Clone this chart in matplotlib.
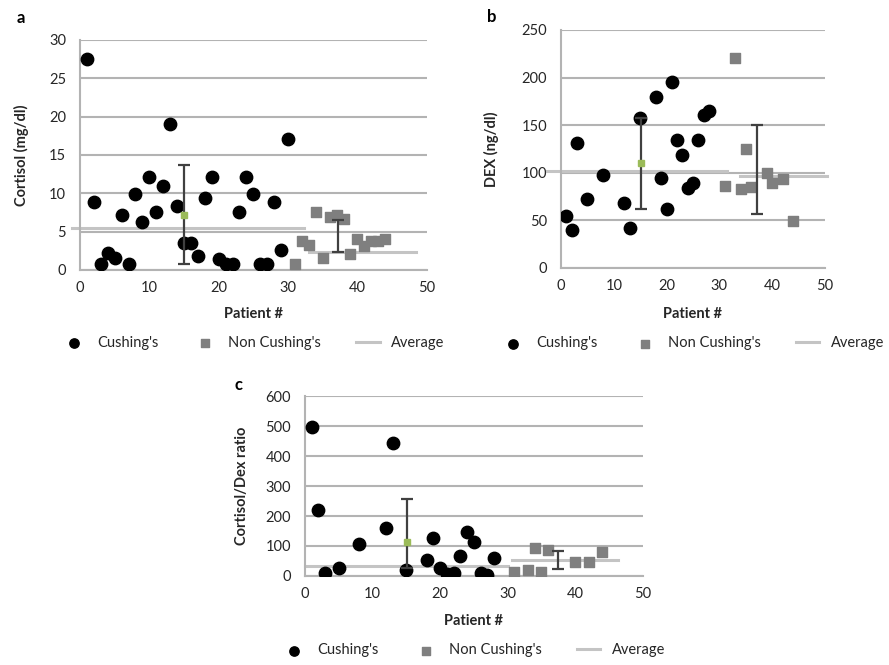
import numpy as np
import matplotlib.pyplot as plt

plt.rcParams['font.family'] = ['Lato', 'DejaVu Sans']

# panel a - cortisol
cort_cush_x = list(range(1, 31))
cort_cush = [27.5, 8.8, 0.8, 2.2, 1.5, 7.2, 0.8, 9.9, 6.2, 12.1, 7.5, 11, 19, 8.3, 3.5,
             3.5, 1.8, 9.4, 12.1, 1.4, 0.8, 0.8, 7.5, 12.1, 9.9, 0.8, 0.8, 8.8, 2.6, 17.1]
cort_non_x = list(range(31, 45))
cort_non = [0.8, 3.8, 3.2, 7.5, 1.5, 6.9, 7.2, 6.6, 2.1, 4.0, 3.1, 3.8, 3.8, 4.0]
cort_avg = {"cush": (5.5, -1.2, 32.3), "non": (2.3, 33.0, 48.4)}
cort_err = {"cush": (15, 7.2, 0.8, 13.7), "non": (37.2, 4.4, 2.3, 6.5)}

# panel b - DEX
dex_cush_x = [1, 2, 3, 5, 8, 12, 13, 15, 18, 19, 20, 21, 22, 23, 24, 25, 26, 27, 28]
dex_cush = [55, 40, 131.5, 72, 98, 68, 42, 157, 180, 95, 62, 195, 134, 119, 84.5, 89, 134, 161, 165]
dex_non_x = [31, 33, 34, 35, 36, 39, 40, 42, 44]
dex_non = [86.6, 221, 83, 125, 85, 100, 89, 93, 49]
dex_avg = {"cush": (102, -2.7, 31.4), "non": (96.5, 33.9, 50.3)}
dex_err = {"cush": (15.1, 110.5, 62.4, 157), "non": (37.1, 103, 56.5, 150)}

# panel c - ratio
ratio_cush_x = [1, 2, 3, 5, 8, 12, 13, 15, 18, 19, 20, 21, 22, 23, 24, 25, 26, 27, 28]
ratio_cush = [499, 220, 11, 27, 106, 160, 444, 21, 52, 125, 27, 6, 11, 65, 146, 112, 11, 4, 59]
ratio_non_x = [31, 33, 34, 35, 36, 40, 42, 44]
ratio_non = [14.5, 19, 92, 14.5, 86, 48, 48, 80]
ratio_avg = {"cush": (32.5, 0, 30.0), "non": (52.6, 30.6, 46.4)}
ratio_err = {"cush": (15.1, 112, 28, 257), "non": (37.5, 52, 22.3, 81.6)}

GRID = "#b3b3b3"
AVG = "#c4c4c4"
ERR = "#404040"
SQ = "#7f7f7f"
TXT = "#262626"

fig = plt.figure(figsize=(8.89, 6.65), dpi=100)


def panel(rect, cx, cy, nx, ny, avg, err, ymax, ystep, ylabel, ylab_x, leg_y, xlab_y, msq):
    ax = fig.add_axes(rect)
    ax.set_xlim(0, 50)
    ax.set_ylim(0, ymax)
    ax.set_xticks(range(0, 51, 10))
    ax.set_yticks(np.arange(0, ymax + 1, ystep))
    ax.yaxis.grid(True, color=GRID, linewidth=1.5)
    ax.set_axisbelow(True)
    for s in ["top", "right"]:
        ax.spines[s].set_visible(False)
    for s in ["left", "bottom"]:
        ax.spines[s].set_color(GRID)
        ax.spines[s].set_linewidth(1.5)
    ax.tick_params(length=0, labelsize=10.5, colors=TXT)
    ax.tick_params(axis="y", pad=10)
    ax.tick_params(axis="x", pad=8)

    # averages
    y, x0, x1 = avg["cush"]
    ax.plot([x0, x1], [y, y], color=AVG, linewidth=2.2, clip_on=False, zorder=2)
    y, x0, x1 = avg["non"]
    ax.plot([x0, x1], [y, y], color=AVG, linewidth=2.2, clip_on=False, zorder=2,
            label="Average")

    ax.scatter(cx, cy, s=80, color="black", marker="o", zorder=3, label="Cushing's")
    ax.scatter(nx, ny, s=msq, color=SQ, marker="s", zorder=3, label="Non Cushing's")

    for k in ["cush", "non"]:
        x, m, lo, hi = err[k]
        ax.errorbar([x], [m], yerr=[[m - lo], [hi - m]], fmt="none", ecolor=ERR,
                    elinewidth=1.6, capsize=4, capthick=1.6, zorder=4)
    x, m, lo, hi = err["cush"]
    ax.plot([x], [m], marker="s", markersize=4.5, color="#9bbb59", zorder=5)

    ax.set_ylabel(ylabel, fontsize=10.5, fontweight="bold", color=TXT)
    ax.yaxis.set_label_coords(ylab_x, 0.5)
    ax.set_xlabel("Patient #", fontsize=10.5, fontweight="bold", color=TXT)
    ax.xaxis.set_label_coords(0.5, xlab_y)

    h, l = ax.get_legend_handles_labels()
    order = [l.index("Cushing's"), l.index("Non Cushing's"), l.index("Average")]
    ax.legend([h[i] for i in order], [l[i] for i in order], loc="center",
              bbox_to_anchor=(0.5, leg_y), ncol=3, frameon=False, fontsize=10.5,
              handlelength=1.6, columnspacing=2.4, handletextpad=0.8,
              labelcolor=TXT, markerscale=0.75)
    return ax


panel([0.090, 0.594, 0.390, 0.346], cort_cush_x, cort_cush, cort_non_x, cort_non,
      cort_avg, cort_err, 30, 5, "Cortisol (mg/dl)", -0.148, -0.317, -0.16, 60)
panel([0.631, 0.597, 0.297, 0.358], dex_cush_x, dex_cush, dex_non_x, dex_non,
      dex_avg, dex_err, 250, 50, "DEX (ng/dl)", -0.235, -0.317, -0.165, 60)
panel([0.343, 0.134, 0.380, 0.270], ratio_cush_x, ratio_cush, ratio_non_x, ratio_non,
      ratio_avg, ratio_err, 600, 100, "Cortisol/Dex ratio", -0.165, -0.415, -0.214, 50)

fig.text(21 / 889, 1 - 18 / 665, "a", fontsize=12, fontweight="bold", ha="center", va="center")
fig.text(492 / 889, 1 - 17 / 665, "b", fontsize=12, fontweight="bold", ha="center", va="center")
fig.text(238 / 889, 1 - 385 / 665, "c", fontsize=12, fontweight="bold", ha="center", va="center")

fig.savefig("out.png", dpi=100)
